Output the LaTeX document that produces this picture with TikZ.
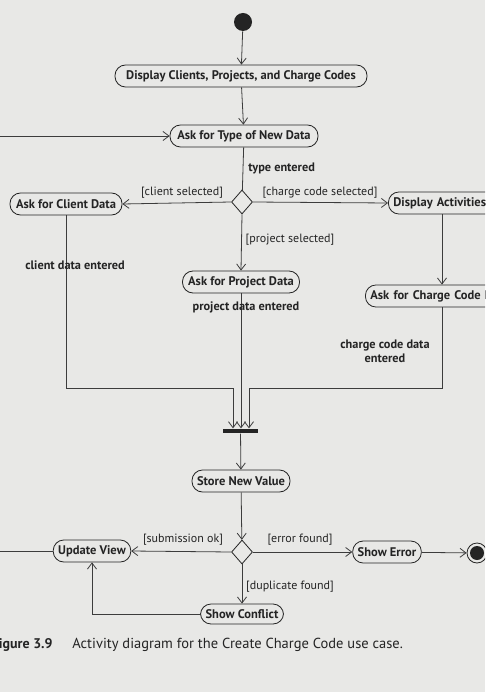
\documentclass[tikz,border=0pt]{standalone}
\usepackage{fontspec}
\setmainfont{PT Sans}
\usetikzlibrary{arrows.meta,shapes.geometric}
\definecolor{paper}{RGB}{232,232,230}
\definecolor{ink}{RGB}{36,36,36}
\definecolor{wire}{RGB}{60,60,60}
\begin{document}
\begin{tikzpicture}[x=1pt,y=-1pt,
  line width=0.8pt,
  act/.style={draw=ink, rectangle, rounded corners=10.5pt, minimum height=22pt,
    inner xsep=5pt, inner ysep=0pt, font=\bfseries\fontsize{12.5}{14}\selectfont, text=ink},
  guard/.style={font=\fontsize{12}{14}\selectfont, text=ink, inner sep=0pt},
  flowlabel/.style={font=\bfseries\fontsize{12.3}{14}\selectfont, text=ink, inner sep=0pt},
  choice/.style={draw=ink, diamond, minimum width=21pt, minimum height=24pt, inner sep=0pt, fill=paper},
  flow/.style={draw=wire, -{Straight Barb[length=6pt,width=9pt]}},
  plain/.style={draw=wire}
]
\useasboundingbox (0,0) rectangle (485,692);
\fill[paper] (0,0) rectangle (485,692);
\clip (0,0) rectangle (485,692);

% activity nodes
\node[circle, fill=ink, minimum size=18pt, inner sep=0pt] (start) at (243,22) {};
\node[act, minimum width=252pt] (disp) at (241,76) {Display Clients, Projects, and Charge Codes};
\node[act, minimum width=148pt] (askType) at (244,136) {Ask for Type of New Data};
\node[choice] (dec1) at (242,202) {};
\node[act, minimum width=112pt] (client) at (66,204) {Ask for Client Data};
\node[act, anchor=west, minimum width=120pt, text width=110pt] (dispAct) at (388,203) {Display Activities};
\node[act, minimum width=117pt] (project) at (241,282) {Ask for Project Data};
\node[act, anchor=west, minimum width=150pt, text width=140pt] (chargeData) at (365,296) {Ask for Charge Code Data};
\node[fill=ink, minimum width=35pt, minimum height=4.5pt, inner sep=0pt] (bar) at (240.5,431) {};
\node[act, minimum width=98pt] (store) at (241,481) {Store New Value};
\node[choice] (dec2) at (242,552) {};
\node[act, minimum width=77pt] (update) at (92,551) {Update View};
\node[act, minimum width=68pt] (showErr) at (387,552) {Show Error};
\node[act, minimum width=83pt, minimum height=20pt] (conflict) at (242,614) {Show Conflict};
\node[circle, draw=ink, minimum size=20pt, inner sep=0pt,
  path picture={\fill[ink] (path picture bounding box.center) circle (7pt);}] (end) at (477,553) {};

% free ends of the loop leaving and re-entering the view
\coordinate (loopIn) at (-5,136);
\coordinate (loopOut) at (-5,551);
\coordinate (cx) at (442,0);
\coordinate (jl) at (233,388);
\coordinate (jr) at (249,388);

% connectors
\draw[flow] (start) -- (disp);
\draw[flow] (disp) -- (askType);
\draw[flow] (loopIn) -- (askType.west);
\draw[plain] (askType) -- (dec1);
\draw[flow] (dec1.west) -- (client.east);
\draw[flow] (dec1.east) -- (dispAct.west);
\draw[flow] (dec1.south) -- (project.north);
\draw[flow] (dispAct.south -| cx) -- (chargeData.north -| cx);
\draw[flow] (client.south) |- (jl) -- (jl |- bar.north);
\draw[flow] (project.south) -- (project.south |- bar.north);
\draw[flow] (chargeData.south -| cx) |- (jr) -- (jr |- bar.north);
\draw[flow] (bar) -- (store);
\draw[flow] (store) -- (dec2);
\draw[flow] (dec2.west) -- (update.east);
\draw[flow] (dec2.east) -- (showErr.west);
\draw[flow] (showErr) -- (end);
\draw[flow] (dec2.south) -- (conflict.north);
\draw[flow] (conflict.west) -| (update.south);
\draw[plain] (update.west) -- (loopOut);

% labels
\node[flowlabel, anchor=west] (lType) at (248,168) {type entered};
\node[guard] (gClient) at (182,193) {[client selected]};
\node[guard] (gCharge) at (320,193) {[charge code selected]};
\node[guard] (gProject) at (290,240) {[project selected]};
\node[flowlabel] (lClient) at (75,265) {client data entered};
\node[flowlabel] (lProject) at (246,307) {project data entered};
\node[flowlabel, align=center] (lCharge) at (385,351) {charge code data\\entered};
\node[guard] (gOk) at (183,540) {[submission ok]};
\node[guard] (gErr) at (300,540) {[error found]};
\node[guard] (gDup) at (290,587) {[duplicate found]};

% caption
\node[anchor=base east, inner sep=0pt, font=\bfseries\fontsize{14}{16}\selectfont, text=ink] (capNum) at (53,648) {Figure 3.9};
\node[anchor=base west, inner sep=0pt, font=\fontsize{14.5}{16}\selectfont, text=ink] (capText) at (72,648) {Activity diagram for the Create Charge Code use case.};
\end{tikzpicture}
\end{document}
